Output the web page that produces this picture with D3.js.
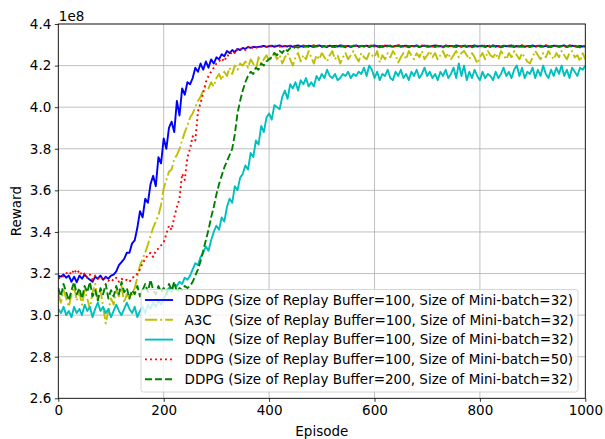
<!DOCTYPE html>
<html>
<head>
<meta charset="utf-8">
<script src="https://cdn.jsdelivr.net/npm/d3@7"></script>
<style>
  body { margin: 0; background: #fff; }
  svg text { font-family: "DejaVu Sans", sans-serif; fill: #000; }
</style>
</head>
<body>
<svg id="chart" width="605" height="439"></svg>
<script>
// Episodes sampled every 5 steps, rewards in units of 1e8
const episodes = d3.range(0, 1001, 5);

const ddpg = [
  3.190,3.185,3.195,3.180,3.190,3.160,3.185,3.158,3.190,3.175,
  3.195,3.180,3.170,3.160,3.185,3.175,3.190,3.170,3.185,3.175,
  3.190,3.195,3.210,3.240,3.255,3.270,3.300,3.300,3.345,3.360,
  3.420,3.500,3.470,3.560,3.540,3.630,3.670,3.620,3.760,3.730,
  3.850,3.800,3.900,3.930,3.880,4.030,3.960,4.090,4.060,4.120,
  4.110,4.140,4.190,4.170,4.210,4.180,4.220,4.190,4.230,4.210,
  4.240,4.230,4.255,4.245,4.270,4.260,4.275,4.265,4.280,4.275,
  4.285,4.280,4.290,4.285,4.290,4.288,4.290,4.292,4.295,4.290,
  4.293,4.296,4.290,4.294,4.297,4.291,4.295,4.292,4.296,4.290,
  4.294,4.297,4.292,4.295,4.291,4.296,4.293,4.290,4.295,4.297,
  4.292,4.294,4.290,4.296,4.293,4.295,4.291,4.297,4.294,4.292,
  4.295,4.290,4.294,4.297,4.292,4.295,4.293,4.296,4.291,4.294,
  4.297,4.292,4.295,4.290,4.294,4.296,4.293,4.291,4.295,4.297,
  4.292,4.294,4.296,4.291,4.295,4.293,4.297,4.290,4.294,4.296,
  4.293,4.291,4.295,4.297,4.292,4.294,4.290,4.296,4.293,4.295,
  4.291,4.297,4.294,4.292,4.296,4.290,4.295,4.293,4.297,4.291,
  4.294,4.296,4.292,4.295,4.290,4.297,4.293,4.294,4.291,4.296,
  4.293,4.295,4.297,4.291,4.294,4.292,4.296,4.290,4.295,4.293,
  4.297,4.292,4.294,4.296,4.291,4.295,4.293,4.290,4.296,4.294,
  4.292,4.295,4.297,4.291,4.294,4.296,4.293,4.290,4.295,4.292,
  4.294
];

const a3c = [
  3.100,3.060,3.120,3.080,3.040,3.100,3.140,3.070,3.110,3.050,
  3.120,3.080,3.030,3.110,3.150,3.070,3.120,3.040,2.960,3.020,
  3.080,3.050,3.120,3.090,3.140,3.060,3.100,3.080,3.100,3.130,
  3.180,3.240,3.270,3.300,3.340,3.380,3.420,3.450,3.480,3.530,
  3.610,3.650,3.690,3.700,3.750,3.770,3.800,3.840,3.880,3.910,
  3.950,3.970,4.000,4.030,4.050,4.080,4.100,4.090,4.120,4.100,
  4.140,4.160,4.130,4.170,4.150,4.190,4.160,4.200,4.180,4.210,
  4.200,4.220,4.190,4.230,4.210,4.180,4.240,4.210,4.230,4.250,
  4.220,4.240,4.260,4.230,4.250,4.210,4.240,4.260,4.230,4.200,
  4.240,4.260,4.220,4.250,4.230,4.270,4.240,4.210,4.250,4.230,
  4.260,4.240,4.220,4.250,4.270,4.230,4.250,4.210,4.240,4.260,
  4.230,4.250,4.270,4.240,4.220,4.260,4.240,4.230,4.260,4.250,
  4.240,4.270,4.215,4.250,4.230,4.260,4.240,4.270,4.250,4.215,
  4.240,4.260,4.230,4.270,4.250,4.230,4.260,4.240,4.270,4.230,
  4.250,4.270,4.240,4.260,4.230,4.250,4.270,4.240,4.260,4.230,
  4.250,4.270,4.240,4.260,4.270,4.250,4.230,4.260,4.240,4.210,
  4.240,4.260,4.230,4.270,4.250,4.240,4.260,4.230,4.270,4.250,
  4.230,4.260,4.240,4.270,4.250,4.230,4.260,4.240,4.220,4.210,
  4.240,4.270,4.250,4.230,4.260,4.240,4.270,4.250,4.230,4.260,
  4.240,4.270,4.250,4.230,4.260,4.270,4.240,4.250,4.220,4.260,
  4.230
];

const dqn = [
  3.030,3.010,3.040,3.000,3.020,2.990,3.040,3.010,3.030,3.000,
  3.050,3.020,3.040,2.990,3.030,3.060,3.020,3.040,3.010,3.030,
  2.990,3.020,3.050,3.020,3.000,3.030,3.060,3.030,3.010,3.040,
  2.990,3.020,3.040,3.010,3.050,3.030,3.060,3.040,3.070,3.050,
  3.080,3.100,3.130,3.110,3.150,3.140,3.160,3.150,3.180,3.170,
  3.190,3.220,3.250,3.240,3.280,3.300,3.330,3.310,3.360,3.400,
  3.430,3.410,3.470,3.450,3.520,3.560,3.540,3.620,3.600,3.660,
  3.680,3.720,3.700,3.780,3.760,3.840,3.820,3.910,3.880,3.950,
  3.970,3.940,4.010,4.000,3.990,4.050,4.080,4.040,4.110,4.090,
  4.120,4.080,4.130,4.110,4.140,4.100,4.120,4.100,4.150,4.130,
  4.160,4.140,4.180,4.150,4.140,4.160,4.130,4.140,4.160,4.150,
  4.170,4.140,4.160,4.150,4.170,4.160,4.190,4.150,4.200,4.180,
  4.140,4.170,4.130,4.160,4.150,4.180,4.140,4.130,4.170,4.150,
  4.180,4.140,4.160,4.130,4.170,4.150,4.180,4.140,4.160,4.190,
  4.150,4.170,4.140,4.160,4.130,4.170,4.150,4.180,4.140,4.160,
  4.190,4.140,4.210,4.150,4.200,4.130,4.170,4.140,4.180,4.150,
  4.130,4.170,4.140,4.160,4.150,4.130,4.170,4.140,4.160,4.190,
  4.150,4.170,4.140,4.180,4.200,4.150,4.190,4.140,4.170,4.160,
  4.190,4.140,4.180,4.150,4.200,4.160,4.140,4.180,4.150,4.190,
  4.160,4.200,4.150,4.180,4.140,4.190,4.170,4.150,4.190,4.180,
  4.200
];

const ddpgBatch50 = [
  3.180,3.175,3.190,3.200,3.210,3.195,3.220,3.200,3.215,3.190,
  3.200,3.180,3.195,3.170,3.190,3.175,3.185,3.170,3.180,3.165,
  3.175,3.165,3.180,3.160,3.175,3.165,3.170,3.160,3.180,3.185,
  3.200,3.220,3.250,3.270,3.290,3.300,3.280,3.310,3.320,3.335,
  3.350,3.390,3.430,3.410,3.470,3.520,3.560,3.680,3.650,3.760,
  3.800,3.860,3.840,3.980,4.020,4.070,4.120,4.150,4.170,4.190,
  4.210,4.220,4.235,4.220,4.250,4.245,4.270,4.260,4.280,4.275,
  4.285,4.275,4.290,4.280,4.290,4.285,4.292,4.290,4.295,4.290,
  4.295,4.291,4.297,4.293,4.290,4.296,4.292,4.298,4.294,4.291,
  4.296,4.293,4.290,4.297,4.294,4.291,4.295,4.298,4.292,4.294,
  4.291,4.297,4.293,4.295,4.290,4.296,4.294,4.292,4.298,4.293,
  4.296,4.292,4.290,4.295,4.297,4.293,4.291,4.296,4.294,4.298,
  4.292,4.295,4.293,4.290,4.297,4.294,4.296,4.291,4.293,4.298,
  4.294,4.291,4.296,4.293,4.298,4.290,4.295,4.292,4.297,4.293,
  4.296,4.294,4.291,4.298,4.293,4.295,4.292,4.297,4.290,4.294,
  4.297,4.293,4.296,4.291,4.294,4.298,4.292,4.295,4.293,4.290,
  4.295,4.292,4.298,4.294,4.296,4.291,4.297,4.293,4.295,4.292,
  4.290,4.296,4.293,4.297,4.292,4.295,4.298,4.291,4.294,4.296,
  4.293,4.290,4.297,4.294,4.292,4.298,4.295,4.291,4.296,4.293,
  4.297,4.292,4.294,4.291,4.298,4.293,4.295,4.290,4.296,4.294,
  4.292
];

const ddpgBuffer200 = [
  3.130,3.090,3.150,3.110,3.070,3.120,3.160,3.100,3.130,3.080,
  3.140,3.110,3.160,3.090,3.120,3.070,3.130,3.100,3.150,3.080,
  3.120,3.090,3.140,3.100,3.160,3.110,3.130,3.080,3.120,3.100,
  3.140,3.090,3.120,3.150,3.110,3.170,3.120,3.100,3.140,3.110,
  3.130,3.100,3.150,3.120,3.160,3.110,3.130,3.120,3.140,3.130,
  3.140,3.160,3.190,3.220,3.260,3.310,3.360,3.410,3.470,3.520,
  3.580,3.630,3.670,3.710,3.740,3.770,3.800,3.870,3.970,4.030,
  4.080,4.120,4.150,4.170,4.160,4.190,4.180,4.210,4.200,4.220,
  4.230,4.240,4.260,4.250,4.270,4.260,4.280,4.270,4.285,4.280,
  4.290,4.286,4.293,4.289,4.295,4.290,4.287,4.294,4.291,4.296,
  4.290,4.294,4.288,4.295,4.292,4.289,4.296,4.291,4.293,4.288,
  4.294,4.290,4.296,4.292,4.288,4.295,4.291,4.293,4.289,4.296,
  4.291,4.294,4.288,4.295,4.290,4.293,4.296,4.289,4.292,4.295,
  4.290,4.296,4.292,4.288,4.294,4.291,4.295,4.289,4.293,4.296,
  4.290,4.293,4.295,4.289,4.296,4.292,4.288,4.294,4.291,4.295,
  4.293,4.289,4.296,4.290,4.294,4.292,4.295,4.288,4.293,4.296,
  4.291,4.294,4.289,4.295,4.292,4.296,4.290,4.293,4.288,4.294,
  4.296,4.291,4.293,4.289,4.295,4.292,4.290,4.296,4.293,4.289,
  4.294,4.291,4.296,4.290,4.293,4.295,4.289,4.294,4.292,4.296,
  4.290,4.293,4.295,4.289,4.294,4.291,4.296,4.292,4.288,4.293,
  4.291
];

const xTicks = [0, 200, 400, 600, 800, 1000];
const yTicks = [2.6, 2.8, 3.0, 3.2, 3.4, 3.6, 3.8, 4.0, 4.2, 4.4];

const seriesList = [
  { label: "DDPG (Size of Replay Buffer=100, Size of Mini-batch=32)", values: ddpg, color: "#0000ff", dash: null },
  { label: "A3C    (Size of Replay Buffer=100, Size of Mini-batch=32)", values: a3c, color: "#bfbf00", dash: "12.2,3,1.9,3" },
  { label: "DQN   (Size of Replay Buffer=100, Size of Mini-batch=32)", values: dqn, color: "#00bfbf", dash: null },
  { label: "DDPG (Size of Replay Buffer=100, Size of Mini-batch=50)", values: ddpgBatch50, color: "#ff0000", dash: "1.9,3.1" },
  { label: "DDPG (Size of Replay Buffer=200, Size of Mini-batch=32)", values: ddpgBuffer200, color: "#008000", dash: "7,3" }
];

const svg = d3.select("#chart");
const plotLeft = 58.3, plotRight = 585.3, plotTop = 24, plotBottom = 398.3;
const lineWidth = 1.9;
const fontPx = 13.5;

const x = d3.scaleLinear().domain([0, 1000]).range([plotLeft, plotRight]);
const y = d3.scaleLinear().domain([2.6, 4.4]).range([plotBottom, plotTop]);

// grid
const grid = svg.append("g");
grid.selectAll(".gx").data(xTicks).join("line")
  .attr("x1", d => x(d)).attr("x2", d => x(d))
  .attr("y1", plotTop).attr("y2", plotBottom)
  .attr("stroke", "#b0b0b0").attr("stroke-width", 0.8);
grid.selectAll(".gy").data(yTicks).join("line")
  .attr("y1", d => y(d)).attr("y2", d => y(d))
  .attr("x1", plotLeft).attr("x2", plotRight)
  .attr("stroke", "#b0b0b0").attr("stroke-width", 0.8);

// clip region for the curves
svg.append("clipPath").attr("id", "plotClip")
  .append("rect").attr("x", plotLeft).attr("y", plotTop)
  .attr("width", plotRight - plotLeft).attr("height", plotBottom - plotTop);

const line = d3.line()
  .x((d, i) => x(episodes[i]))
  .y(d => y(d));

const curves = svg.append("g").attr("clip-path", "url(#plotClip)");
seriesList.forEach(s => {
  curves.append("path")
    .datum(s.values)
    .attr("d", line)
    .attr("fill", "none")
    .attr("stroke", s.color)
    .attr("stroke-width", lineWidth)
    .attr("stroke-linejoin", "round")
    .attr("stroke-dasharray", s.dash);
});

// axes
const xAxis = d3.axisBottom(x).tickValues(xTicks).tickSize(3.5).tickPadding(3.5)
  .tickFormat(d3.format("d"));
const yAxis = d3.axisLeft(y).tickValues(yTicks).tickSize(3.5).tickPadding(3.5)
  .tickFormat(d3.format(".1f"));

const gx = svg.append("g").attr("transform", `translate(0,${plotBottom})`).call(xAxis);
const gy = svg.append("g").attr("transform", `translate(${plotLeft},0)`).call(yAxis);
[gx, gy].forEach(g => {
  g.select(".domain").remove();
  g.selectAll(".tick line").attr("stroke", "#000").attr("stroke-width", 0.8);
  g.selectAll(".tick text").attr("font-size", fontPx).attr("font-family", "DejaVu Sans").attr("fill", "#000");
});

// frame
svg.append("rect")
  .attr("x", plotLeft).attr("y", plotTop)
  .attr("width", plotRight - plotLeft).attr("height", plotBottom - plotTop)
  .attr("fill", "none").attr("stroke", "#000").attr("stroke-width", 0.8);

// offset label and axis titles
svg.append("text").attr("x", plotLeft + 0.5).attr("y", 21)
  .attr("font-size", fontPx).text("1e8");
svg.append("text").attr("x", (plotLeft + plotRight) / 2).attr("y", 436)
  .attr("text-anchor", "middle").attr("font-size", fontPx).text("Episode");
svg.append("text")
  .attr("transform", `translate(20.5,${(plotTop + plotBottom) / 2}) rotate(-90)`)
  .attr("text-anchor", "middle").attr("font-size", fontPx).text("Reward");

// legend
const lg = svg.append("g");
lg.append("rect")
  .attr("x", 141).attr("y", 289.5).attr("width", 437).attr("height", 102.5)
  .attr("rx", 2.5).attr("fill", "#fff").attr("fill-opacity", 0.8)
  .attr("stroke", "#cccccc").attr("stroke-width", 0.8);
seriesList.forEach((s, i) => {
  const cy = 300 + i * 19.8;
  lg.append("line")
    .attr("x1", 145).attr("x2", 173).attr("y1", cy).attr("y2", cy)
    .attr("stroke", s.color).attr("stroke-width", lineWidth)
    .attr("stroke-dasharray", s.dash);
  lg.append("text")
    .attr("x", 184.5).attr("y", cy + 4.8)
    .attr("font-size", fontPx)
    .style("white-space", "pre")
    .text(s.label);
});
</script>
</body>
</html>
